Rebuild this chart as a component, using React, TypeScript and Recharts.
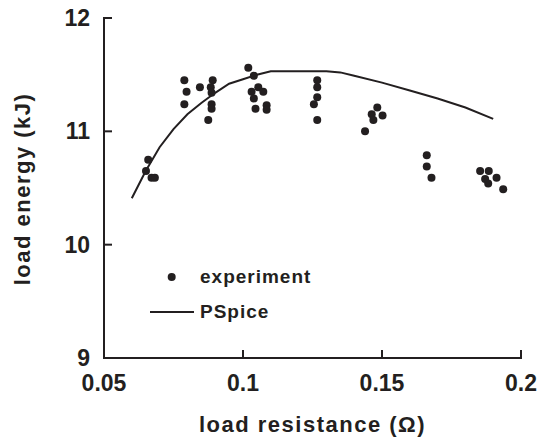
import React from 'react';
import { ComposedChart, Line, Scatter, XAxis, YAxis, Legend } from 'recharts';

const INK = '#231f20';
const FONT = '"Liberation Sans", Arial, Helvetica, sans-serif';

// experiment: load resistance (Ω) and load energy (kJ)
const expResistance = [
  0.0659, 0.0651, 0.0671, 0.0683,
  0.0789, 0.0797, 0.0789, 0.0845, 0.0891, 0.0884, 0.0887, 0.0887, 0.0887, 0.0875,
  0.1019, 0.1039, 0.1031, 0.1055, 0.1039, 0.1073, 0.1045, 0.1085, 0.1085,
  0.1267, 0.1267, 0.1267, 0.1255, 0.1267,
  0.1483, 0.1463, 0.1502, 0.1469, 0.1439,
  0.1661, 0.1661, 0.1678,
  0.1853, 0.1884, 0.1871, 0.1882, 0.1912, 0.1936,
];
const expEnergy = [
  10.75, 10.65, 10.59, 10.59,
  11.45, 11.35, 11.24, 11.39, 11.45, 11.39, 11.34, 11.24, 11.2, 11.1,
  11.56, 11.49, 11.35, 11.39, 11.29, 11.35, 11.2, 11.23, 11.19,
  11.45, 11.39, 11.3, 11.24, 11.1,
  11.21, 11.15, 11.14, 11.1, 11.0,
  10.79, 10.69, 10.59,
  10.65, 10.65, 10.58, 10.54, 10.59, 10.49,
];

// PSpice simulation
const spiceResistance = [0.06, 0.065, 0.07, 0.075, 0.08, 0.085, 0.09, 0.095, 0.1, 0.105, 0.11, 0.12, 0.13, 0.135, 0.14, 0.15, 0.16, 0.17, 0.18, 0.19];
const spiceEnergy = [10.41, 10.65, 10.86, 11.02, 11.15, 11.25, 11.34, 11.42, 11.46, 11.5, 11.53, 11.53, 11.53, 11.52, 11.49, 11.43, 11.36, 11.29, 11.21, 11.11];

const xTicks = [0.05, 0.1, 0.15, 0.2];
const xTickLabels = ['0.05', '0.1', '0.15', '0.2'];
const yTicks = [9, 10, 11, 12];
const yTickLabels = ['9', '10', '11', '12'];

const expData = expResistance.map((r, i) => ({ r, e: expEnergy[i] }));
const spiceData = spiceResistance.map((r, i) => ({ r, e: spiceEnergy[i] }));

const labelStyle = { fontFamily: FONT, fontWeight: 'bold', fontSize: 23 } as any;
const frameLine = { stroke: INK, strokeWidth: 2, strokeLinecap: 'square' } as any;
const tickLineStyle = { stroke: INK, strokeWidth: 2 } as any;

const XTick = (props: any) => {
  const { x, y, payload } = props;
  const v = payload.value;
  return (
    <text x={x} y={y} dy="0.71em" textAnchor="middle" fill={INK} style={labelStyle}>
      {xTickLabels[xTicks.indexOf(v)] ?? String(v)}
    </text>
  );
};

const YTick = (props: any) => {
  const { x, y, payload } = props;
  const v = payload.value;
  return (
    <text x={x} y={y} dy="0.355em" textAnchor="end" fill={INK} style={labelStyle}>
      {yTickLabels[yTicks.indexOf(v)] ?? String(v)}
    </text>
  );
};

const XTitle = (props: any) => {
  const vb = props.viewBox;
  return (
    <text x={vb.x + vb.width / 2} y={vb.y + 74} textAnchor="middle" fill={INK}
      style={{ fontFamily: FONT, fontWeight: 'bold', fontSize: 22, letterSpacing: 1.5 }}>
      load resistance (Ω)
    </text>
  );
};

const YTitle = (props: any) => {
  const vb = props.viewBox;
  const cx = vb.x + 15.5;
  const cy = vb.y + vb.height / 2 + 1;
  return (
    <text x={cx} y={cy} textAnchor="middle" fill={INK} transform={`rotate(-90, ${cx}, ${cy})`}
      style={{ fontFamily: FONT, fontWeight: 'bold', fontSize: 22, letterSpacing: 1.5 }}>
      load energy (kJ)
    </text>
  );
};

const Dot = (props: any) => <circle cx={props.cx} cy={props.cy} r={4} fill={INK} />;

const LegendBox = () => (
  <div style={{ fontFamily: FONT, fontWeight: 'bold', fontSize: 19, color: INK, letterSpacing: 1 }}>
    <div style={{ display: 'flex', alignItems: 'center', height: 24, marginBottom: 11 }}>
      <svg width={50} height={24} style={{ display: 'block' }}>
        <circle cx={21.7} cy={12} r={4} fill={INK} />
      </svg>
      <span style={{ lineHeight: '24px' }}>experiment</span>
    </div>
    <div style={{ display: 'flex', alignItems: 'center', height: 24 }}>
      <svg width={50} height={24} style={{ display: 'block' }}>
        <line x1={0} y1={12} x2={44} y2={12} stroke={INK} strokeWidth={2} />
      </svg>
      <span style={{ lineHeight: '24px' }}>PSpice</span>
    </div>
  </div>
);

export default function App() {
  return (
    <div style={{ position: 'absolute', left: 0, top: 0, background: '#fff' }}>
      <ComposedChart width={557} height={441} margin={{ top: 18, right: 36, bottom: 13, left: 14 }}>
        <XAxis
          dataKey="r"
          type="number"
          domain={[0.05, 0.2]}
          ticks={xTicks}
          tick={<XTick />}
          axisLine={frameLine}
          tickLine={tickLineStyle}
          tickSize={-8}
          tickMargin={25}
          height={70}
          allowDataOverflow
          label={<XTitle />}
        />
        <XAxis
          xAxisId="top"
          orientation="top"
          type="number"
          domain={[0.05, 0.2]}
          ticks={xTicks}
          tick={false}
          tickLine={false}
          axisLine={frameLine}
          height={0}
        />
        <YAxis
          dataKey="e"
          type="number"
          domain={[9, 12]}
          ticks={yTicks}
          tick={<YTick />}
          axisLine={frameLine}
          tickLine={tickLineStyle}
          tickSize={-8}
          tickMargin={22}
          width={90}
          allowDataOverflow
          label={<YTitle />}
        />
        <YAxis
          yAxisId="right"
          orientation="right"
          type="number"
          domain={[9, 12]}
          ticks={yTicks}
          tick={false}
          tickLine={false}
          axisLine={frameLine}
          width={0}
        />
        <Line data={spiceData} dataKey="e" type="linear" stroke={INK} strokeWidth={2} dot={false} isAnimationActive={false} />
        <Scatter data={expData} dataKey="e" shape={<Dot />} isAnimationActive={false} />
        <Legend layout="vertical" align="center" verticalAlign="middle" content={<LegendBox />}
          wrapperStyle={{ left: 150, top: 265, width: 'auto' }} />
      </ComposedChart>
    </div>
  );
}
